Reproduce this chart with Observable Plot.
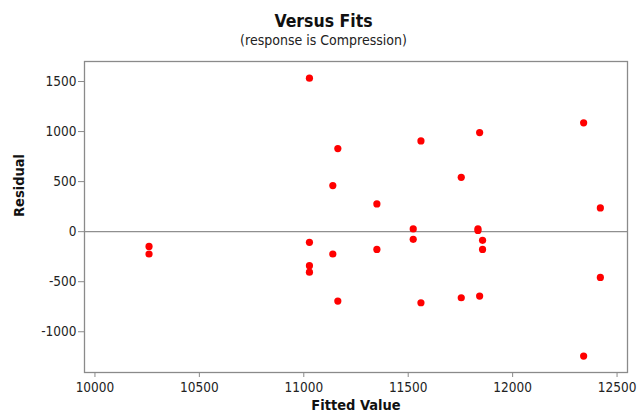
<!DOCTYPE html>
<html>
<head>
<meta charset="utf-8">
<script src="https://cdn.jsdelivr.net/npm/d3@7"></script>
<script src="https://cdn.jsdelivr.net/npm/@observablehq/plot@0.6"></script>
<style>
  html, body { margin: 0; padding: 0; background: #fff; }
  #wrap { width: 637px; height: 414px; position: relative; overflow: hidden; }
  #header { position: relative; width: 637px; height: 52px; }
  .t { position: absolute; left: 0; width: 647px; text-align: center; white-space: nowrap;
       font-family: "DejaVu Sans Condensed", "DejaVu Sans", sans-serif; font-stretch: condensed; color: #111; }
  #title { top: 10.6px; font-size: 17.5px; line-height: 20px; font-weight: bold; }
  #subtitle { top: 32.2px; font-size: 14px; line-height: 16px; color: #222; }
  svg { display: block; }
</style>
</head>
<body>
<div id="wrap">
  <div id="header">
    <div class="t" id="title">Versus Fits</div>
    <div class="t" id="subtitle">(response is Compression)</div>
  </div>
  <div id="chart"></div>
</div>
<script>
// Data
const fittedValues = [10259, 10259, 11027, 11027, 11027, 11027, 11139, 11139, 11163, 11163,
  11350, 11350, 11524, 11524, 11561, 11561, 11754, 11754, 11834, 11834, 11842, 11842,
  11856, 11856, 12340, 12340, 12420, 12420];
const residuals = [-147, -223, 1533, -107, -340, -405, 460, -223, 830, -693,
  277, -177, 27, -77, 907, -710, 543, -660, 28, 12, 990, -643,
  -87, -177, 1087, -1243, 237, -457];
const xTicks = [10000, 10500, 11000, 11500, 12000, 12500];
const yTicks = [-1000, -500, 0, 500, 1000, 1500];
const xLabel = "Fitted Value";
const yLabel = "Residual";

const points = fittedValues.map((f, i) => ({fit: f, resid: residuals[i]}));

const chart = Plot.plot({
  width: 637,
  height: 362,
  marginLeft: 84,
  marginRight: 10,
  marginTop: 9,
  marginBottom: 42,
  style: {fontFamily: "'DejaVu Sans Condensed', 'DejaVu Sans', sans-serif", fontSize: "13.5px", fontStretch: "condensed", background: "#fff"},
  x: {domain: [9950, 12550]},
  y: {domain: [-1407, 1700]},
  marks: [
    Plot.ruleY([0], {stroke: "#8f8f8f", strokeWidth: 1.2}),
    Plot.dot(points, {x: "fit", y: "resid", r: 3.6, fill: "#ff0000", stroke: "none"}),
    Plot.frame({stroke: "#8a8a8a", strokeWidth: 1.3}),
    Plot.axisX({ticks: xTicks, tickSize: 5, tickPadding: 5, label: null, stroke: "#8a8a8a", fill: "#222", tickFormat: d => String(d)}),
    Plot.axisY({ticks: yTicks, tickSize: 6, tickPadding: 2, label: null, stroke: "#8a8a8a", fill: "#222", tickFormat: d => String(d)}),
    Plot.text([xLabel], {frameAnchor: "bottom", dy: 33, text: d => d, fontWeight: "bold", fontSize: 14.5, fill: "#111", lineAnchor: "middle"}),
    Plot.text([yLabel], {frameAnchor: "left", dx: -65, rotate: -90, text: d => d, fontWeight: "bold", fontSize: 14.5, fill: "#111", lineAnchor: "middle"})
  ]
});
document.getElementById("chart").appendChild(chart);
</script>
</body>
</html>
